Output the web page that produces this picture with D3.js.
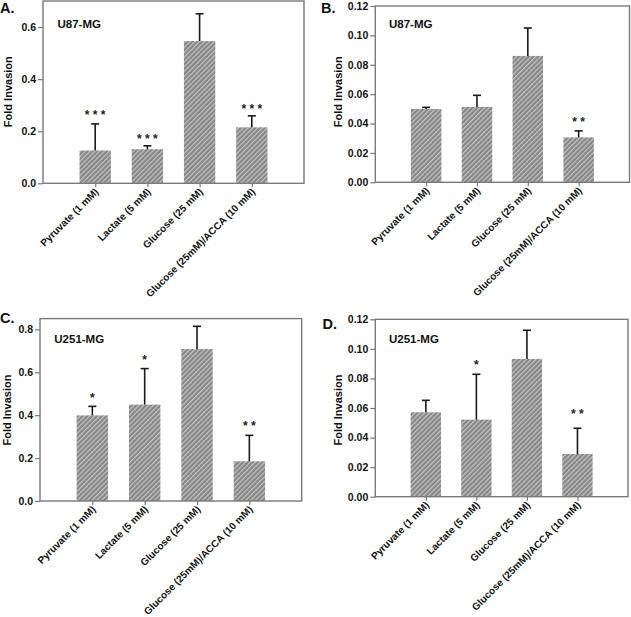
<!DOCTYPE html>
<html>
<head>
<meta charset="utf-8">
<script src="https://cdn.jsdelivr.net/npm/d3@7"></script>
<style>
  html, body { margin: 0; padding: 0; background: #fff; }
  svg { display: block; font-family: "Liberation Sans", Arial, sans-serif; }
</style>
</head>
<body>
<svg id="chart" width="631" height="617"></svg>
<script>
// ---------------- DATA ----------------
const categories = ["Pyruvate (1 mM)", "Lactate (5 mM)", "Glucose (25 mM)", "Glucose (25mM)/ACCA (10 mM)"];

// Panel A – U87-MG
const valuesA = [0.126, 0.131, 0.546, 0.215];
const errorsA = [0.102, 0.013, 0.105, 0.044];
const starsA = ["* * *", "* * *", "", "* * *"];
const starLevelA = [0.273, 0.182, null, 0.297];
const ticksA = [0, 0.2, 0.4, 0.6];

// Panel B – U87-MG
const valuesB = [0.0499, 0.0513, 0.0860, 0.0306];
const errorsB = [0.0011, 0.0079, 0.0190, 0.0044];
const starsB = ["", "", "", "* *"];
const starLevelB = [null, null, null, 0.0429];
const ticksB = [0, 0.02, 0.04, 0.06, 0.08, 0.10, 0.12];

// Panel C – U251-MG
const valuesC = [0.399, 0.449, 0.708, 0.185];
const errorsC = [0.042, 0.168, 0.106, 0.121];
const starsC = ["*", "*", "", "* *"];
const starLevelC = [0.494, 0.670, null, 0.362];
const ticksC = [0, 0.2, 0.4, 0.6, 0.8];

// Panel D – U251-MG
const valuesD = [0.0571, 0.0521, 0.0932, 0.0289];
const errorsD = [0.0081, 0.0307, 0.0194, 0.0174];
const starsD = ["", "*", "", "* *"];
const starLevelD = [null, 0.0913, null, 0.0582];
const ticksD = [0, 0.02, 0.04, 0.06, 0.08, 0.10, 0.12];

const panelLetters = ["A.", "B.", "C.", "D."];
const cellLines = ["U87-MG", "U87-MG", "U251-MG", "U251-MG"];
const yLabel = "Fold Invasion";
const yMax = [0.7, 0.12, 0.85, 0.12];
const tickFormats = [".1f", ".2f", ".1f", ".2f"];

// ---------------- LAYOUT ----------------
const layout = [
  { box: { l: 43, r: 304, t: 1, b: 183.3 }, letter: [0, 13], title: [57.5, 28.3], ylab: [11.7, 91.7] },
  { box: { l: 375.3, r: 629.5, t: 6, b: 182.3 }, letter: [321, 12.7], title: [389, 28.3], ylab: [341.7, 91.7] },
  { box: { l: 40, r: 301.7, t: 318.6, b: 501 }, letter: [0, 322.7], title: [54.3, 343.3], ylab: [11, 410] },
  { box: { l: 375.3, r: 628, t: 319.3, b: 496.7 }, letter: [322.5, 329.4], title: [389, 343.3], ylab: [341.7, 410] }
];

const panelData = [
  { values: valuesA, errors: errorsA, stars: starsA, starLevel: starLevelA, ticks: ticksA },
  { values: valuesB, errors: errorsB, stars: starsB, starLevel: starLevelB, ticks: ticksB },
  { values: valuesC, errors: errorsC, stars: starsC, starLevel: starLevelC, ticks: ticksC },
  { values: valuesD, errors: errorsD, stars: starsD, starLevel: starLevelD, ticks: ticksD }
];

const svg = d3.select("#chart");
const defs = svg.append("defs");
const pat = defs.append("pattern")
  .attr("id", "hatch")
  .attr("patternUnits", "userSpaceOnUse")
  .attr("width", 3.4).attr("height", 3.4)
  .attr("patternTransform", "rotate(45)");
pat.append("rect").attr("width", 3.4).attr("height", 3.4).attr("fill", "#878787");
pat.append("line").attr("x1", 0.6).attr("y1", 0).attr("x2", 0.6).attr("y2", 3.4)
  .attr("stroke", "#c8c8c8").attr("stroke-width", 1.1);

const frameColor = "#7a7a7a";

panelData.forEach((pd, pi) => {
  const L = layout[pi];
  const { l, r, t, b } = L.box;
  const g = svg.append("g");

  const x = d3.scaleLinear().domain([0, categories.length + 1]).range([l, r]);
  const y = d3.scaleLinear().domain([0, yMax[pi]]).range([b, t]);
  const bw = x(0.6) - x(0);

  // bars
  g.selectAll("rect.bar").data(pd.values).enter().append("rect")
    .attr("class", "bar")
    .attr("x", (d, i) => x(i + 1) - bw / 2)
    .attr("y", d => y(d))
    .attr("width", bw)
    .attr("height", d => y(0) - y(d))
    .attr("fill", "url(#hatch)");

  // error bars (upper only)
  const eb = g.selectAll("g.err").data(pd.values).enter().append("g").attr("class", "err");
  eb.append("line")
    .attr("x1", (d, i) => x(i + 1)).attr("x2", (d, i) => x(i + 1))
    .attr("y1", d => y(d)).attr("y2", (d, i) => y(d + pd.errors[i]))
    .attr("stroke", "#1a1a1a").attr("stroke-width", 1.6);
  eb.append("line")
    .attr("x1", (d, i) => x(i + 1) - 4).attr("x2", (d, i) => x(i + 1) + 4)
    .attr("y1", (d, i) => y(d + pd.errors[i])).attr("y2", (d, i) => y(d + pd.errors[i]))
    .attr("stroke", "#1a1a1a").attr("stroke-width", 1.6);

  // significance stars
  pd.stars.forEach((s, i) => {
    if (!s) return;
    g.append("text")
      .attr("x", x(i + 1))
      .attr("y", y(pd.starLevel[i]) + 7)
      .attr("text-anchor", "middle")
      .attr("font-size", 12)
      .attr("font-weight", "bold")
      .attr("fill", "#222")
      .text(s);
  });

  // frame
  g.append("rect")
    .attr("x", l).attr("y", t).attr("width", r - l).attr("height", b - t)
    .attr("fill", "none").attr("stroke", frameColor).attr("stroke-width", 1.4);

  // y axis
  const yAxis = d3.axisLeft(y).tickValues(pd.ticks).tickFormat(d3.format(tickFormats[pi]))
    .tickSize(5).tickPadding(2);
  const ya = g.append("g").attr("transform", `translate(${l},0)`).call(yAxis);
  ya.select(".domain").remove();
  ya.selectAll(".tick line").attr("stroke", frameColor).attr("stroke-width", 1.2);
  ya.selectAll(".tick text").attr("font-size", 10.5).attr("font-weight", "bold")
    .attr("fill", "#111").attr("font-family", "Liberation Sans, Arial, sans-serif");

  // x axis
  const xAxis = d3.axisBottom(x).tickValues(d3.range(1, categories.length + 1))
    .tickSize(4).tickFormat("");
  const xa = g.append("g").attr("transform", `translate(0,${b})`).call(xAxis);
  xa.select(".domain").remove();
  xa.selectAll(".tick line").attr("stroke", frameColor).attr("stroke-width", 1.2);

  // x labels rotated
  categories.forEach((c, i) => {
    g.append("text")
      .attr("transform", `translate(${x(i + 1) + 4},${b + 9}) rotate(-45)`)
      .attr("text-anchor", "end")
      .attr("font-size", 10)
      .attr("font-weight", "bold")
      .attr("fill", "#111")
      .text(c);
  });

  // y label
  g.append("text")
    .attr("transform", `translate(${L.ylab[0]},${L.ylab[1]}) rotate(-90)`)
    .attr("text-anchor", "middle")
    .attr("font-size", 11)
    .attr("font-weight", "bold")
    .attr("fill", "#111")
    .text(yLabel);

  // cell line title
  g.append("text")
    .attr("x", L.title[0]).attr("y", L.title[1])
    .attr("font-size", 11.5).attr("font-weight", "bold").attr("fill", "#111")
    .text(cellLines[pi]);

  // panel letter
  g.append("text")
    .attr("x", L.letter[0]).attr("y", L.letter[1])
    .attr("font-size", 14.5).attr("font-weight", "bold").attr("fill", "#111")
    .text(panelLetters[pi]);
});
</script>
</body>
</html>
